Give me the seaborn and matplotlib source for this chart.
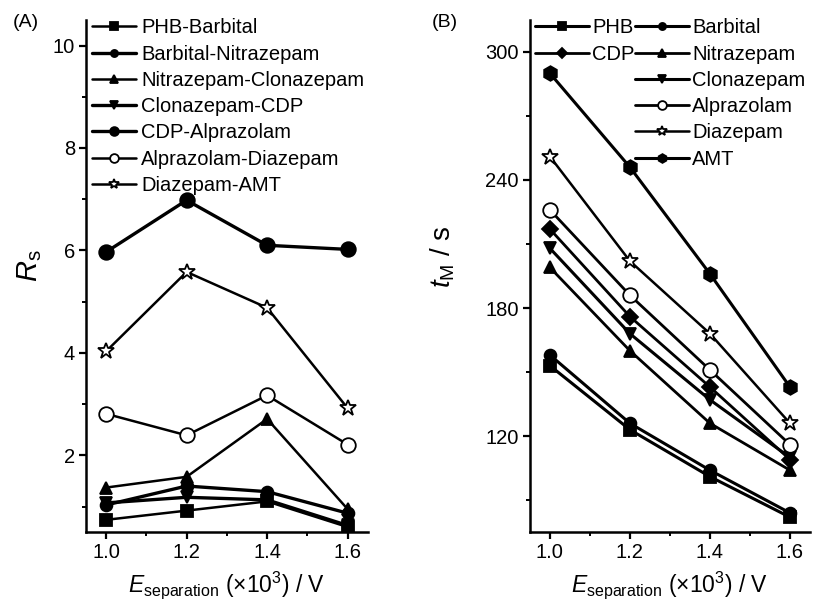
import matplotlib

matplotlib.use("Agg", force=True)
import matplotlib.pyplot as plt
import seaborn as sns
from matplotlib.lines import Line2D
from matplotlib.ticker import MultipleLocator

# separation voltage (x10^3 V)
voltage = [1.0, 1.2, 1.4, 1.6]

# (A) resolution between neighbouring peaks
pair_names = [
    "PHB-Barbital",
    "Barbital-Nitrazepam",
    "Nitrazepam-Clonazepam",
    "Clonazepam-CDP",
    "CDP-Alprazolam",
    "Alprazolam-Diazepam",
    "Diazepam-AMT",
]
rs_phb_barbital = [0.74, 0.92, 1.10, 0.60]
rs_barbital_nitrazepam = [1.03, 1.40, 1.29, 0.87]
rs_nitrazepam_clonazepam = [1.37, 1.58, 2.71, 0.95]
rs_clonazepam_cdp = [1.07, 1.18, 1.13, 0.63]
rs_cdp_alprazolam = [5.97, 6.98, 6.10, 6.02]
rs_alprazolam_diazepam = [2.81, 2.39, 3.17, 2.21]
rs_diazepam_amt = [4.03, 5.58, 4.88, 2.92]

# (B) migration times
drug_names = ["PHB", "Barbital", "CDP", "Nitrazepam", "Clonazepam", "Alprazolam", "Diazepam", "AMT"]
tm_phb = [153, 123, 101, 82]
tm_barbital = [158, 126, 104, 84]
tm_cdp = [217, 176, 143, 109]
tm_nitrazepam = [199, 160, 126, 104]
tm_clonazepam = [208, 168, 137, 110]
tm_alprazolam = [226, 186, 151, 116]
tm_diazepam = [251, 202, 168, 126]
tm_amt = [290, 246, 196, 143]


def set_style() -> None:
    sns.set_theme(style="ticks", context="notebook")
    plt.rcParams["font.family"] = ["Liberation Sans", "DejaVu Sans"]
    plt.rcParams["mathtext.fontset"] = "custom"
    plt.rcParams["mathtext.rm"] = "Liberation Sans"
    plt.rcParams["mathtext.it"] = "Liberation Sans:italic"
    plt.rcParams["mathtext.bf"] = "Liberation Sans:bold"
    plt.rcParams["axes.linewidth"] = 1.8
    plt.rcParams["axes.edgecolor"] = "black"
    plt.rcParams["axes.labelcolor"] = "black"
    plt.rcParams["text.color"] = "black"
    plt.rcParams["xtick.color"] = "black"
    plt.rcParams["ytick.color"] = "black"
    plt.rcParams["legend.labelcolor"] = "black"


def draw(ax, y, marker, face, ms, lw, label):
    sns.lineplot(
        x=voltage, y=y, ax=ax, color="black", marker=marker, markersize=ms,
        markerfacecolor=face, markeredgecolor="black", markeredgewidth=1.3,
        linewidth=lw, label=label, errorbar=None, sort=False,
    )


def style_axes(ax, ylim, major, minor):
    ax.set_xlim(0.95, 1.65)
    ax.set_ylim(*ylim)
    ax.xaxis.set_major_locator(MultipleLocator(0.2))
    ax.xaxis.set_minor_locator(MultipleLocator(0.1))
    ax.yaxis.set_major_locator(MultipleLocator(major))
    ax.yaxis.set_minor_locator(MultipleLocator(minor))
    ax.xaxis.set_major_formatter(plt.FuncFormatter(lambda v, _: f"{v:.1f}"))
    ax.tick_params(which="major", length=5, width=1.6, labelsize=14.5, pad=3)
    ax.tick_params(which="minor", length=3, width=1.4)
    sns.despine(ax=ax)
    ax.set_xlabel(r"$\mathit{E}_{\mathrm{separation}}$ (×10$^3$) / V", fontsize=16.5, labelpad=5)


set_style()
fig = plt.figure(figsize=(8.19, 6.04), dpi=100)
ax_a = fig.add_axes([0.105, 0.119, 0.344, 0.848])
ax_b = fig.add_axes([0.647, 0.119, 0.342, 0.848])

# panel A
a_series = [rs_phb_barbital, rs_barbital_nitrazepam, rs_nitrazepam_clonazepam, rs_clonazepam_cdp,
            rs_cdp_alprazolam, rs_alprazolam_diazepam, rs_diazepam_amt]
a_marks = [("s", "black", 8.5, 1.8), ("o", "black", 8.5, 2.4), ("^", "black", 9, 1.8),
           ("v", "black", 9, 2.4), ("o", "black", 10.5, 2.4), ("o", "white", 10.5, 1.8),
           ("*", "white", 12, 1.8)]
for name, vals, (m, fc, ms, lw) in zip(pair_names, a_series, a_marks):
    draw(ax_a, vals, m, fc, ms, lw, name)
style_axes(ax_a, (0.5, 10.5), 2, 1)
ax_a.set_ylabel(r"$\mathit{R}_{\mathrm{s}}$", fontsize=21)
ax_a.yaxis.set_label_coords(-0.15, 0.52)
h, l = ax_a.get_legend_handles_labels()
ax_a.legend(h, l, loc="upper left", bbox_to_anchor=(0.02, 1.003), frameon=False, fontsize=14.5,
            handlelength=2.2, handletextpad=0.25, labelspacing=0.36, borderpad=0,
            borderaxespad=0, markerscale=0.6)

# panel B
b_series = [tm_phb, tm_barbital, tm_cdp, tm_nitrazepam, tm_clonazepam, tm_alprazolam, tm_diazepam, tm_amt]
b_marks = [("s", "black", 8.5, 2.2), ("o", "black", 8.5, 2.2), ("D", "black", 8, 2.0),
           ("^", "black", 9, 2.0), ("v", "black", 9, 2.2), ("o", "white", 10.5, 2.0),
           ("*", "white", 12, 1.8), ("h", "black", 10.5, 2.2)]
for name, vals, (m, fc, ms, lw) in zip(drug_names, b_series, b_marks):
    draw(ax_b, vals, m, fc, ms, lw, name)
style_axes(ax_b, (75, 315), 60, 30)
ax_b.set_ylabel(r"$\mathit{t}_{\mathrm{M}}$ / s", fontsize=20)
ax_b.yaxis.set_label_coords(-0.26, 0.537)
h, l = ax_b.get_legend_handles_labels()
lookup = dict(zip(l, h))
blank = Line2D([], [], linestyle="none")
order_left = ["PHB", "CDP"]
order_right = ["Barbital", "Nitrazepam", "Clonazepam", "Alprazolam", "Diazepam", "AMT"]
handles = [lookup[n] for n in order_left] + [blank] * 4 + [lookup[n] for n in order_right]
labels = order_left + [""] * 4 + order_right
ax_b.legend(handles, labels, ncol=2, loc="upper left", bbox_to_anchor=(0.018, 1.003), frameon=False,
            fontsize=14.5, handlelength=2.7, handletextpad=0.15, labelspacing=0.36, borderpad=0,
            borderaxespad=0, columnspacing=0.0, markerscale=0.6)

fig.text(0.015, 0.962, "(A)", fontsize=14, va="center")
fig.text(0.527, 0.962, "(B)", fontsize=14, va="center")

fig.savefig("out.png", dpi=100)
plt.close(fig)
